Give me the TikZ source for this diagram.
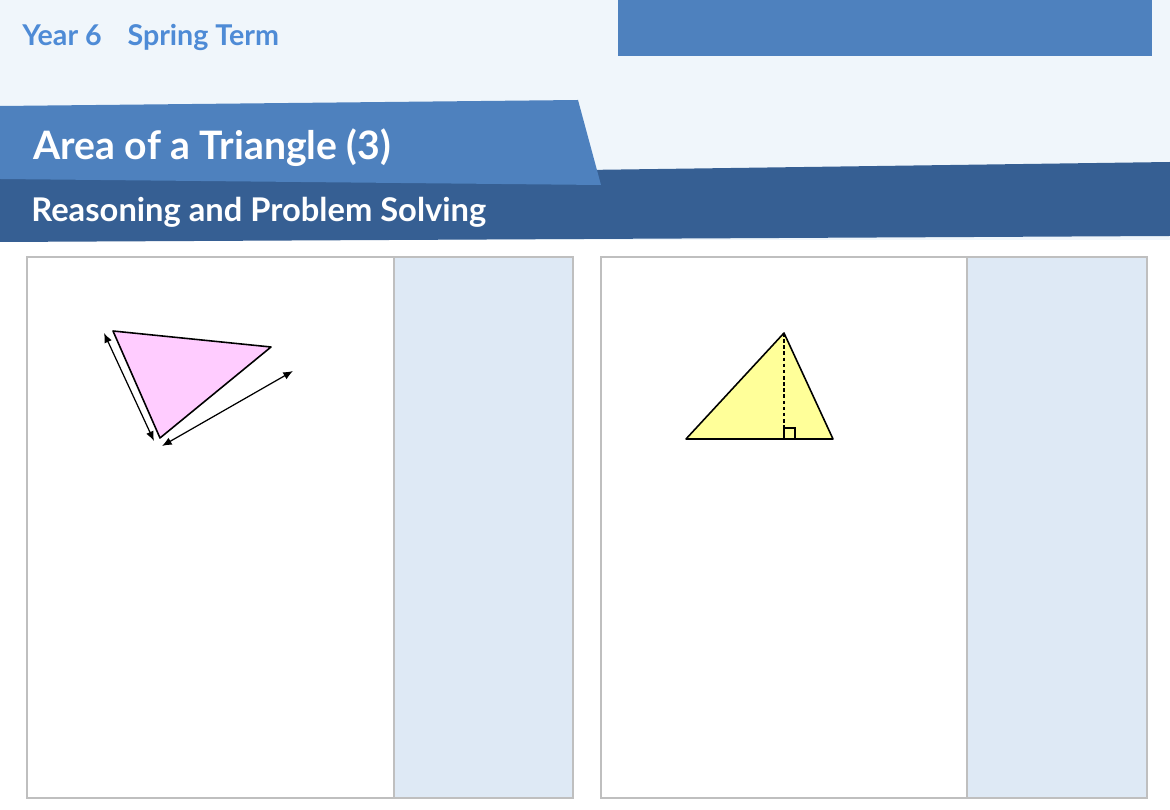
\documentclass[tikz,border=0pt]{standalone}
\usepackage{fontspec}
\setmainfont{Lato}
\usetikzlibrary{arrows.meta}
\definecolor{bgl}{HTML}{F0F6FB}
\definecolor{midblue}{HTML}{4E81BE}
\definecolor{darkblue}{HTML}{365F93}
\definecolor{yeartxt}{HTML}{4E8BD6}
\definecolor{panelgray}{HTML}{BFBFBF}
\definecolor{panelblue}{HTML}{DEE9F5}
\definecolor{pinkfill}{HTML}{FFCCFF}
\definecolor{yellowfill}{HTML}{FFFF99}
\begin{document}
\begin{tikzpicture}[x=0.02cm,y=-0.02cm,
  panel/.style={draw=panelgray,line width=0.6pt},
  side/.style={draw=panelgray,fill=panelblue,line width=0.6pt},
  tri/.style={draw=black,line width=0.9pt,line join=round},
  dim/.style={draw=black,line width=0.7pt,{Latex[length=5.5pt,width=4.5pt]}-{Latex[length=5.5pt,width=4.5pt]}},
  txt/.style={inner sep=0pt,anchor=base west}]
\useasboundingbox (0,0) rectangle (1170,810);
\fill[white] (0,0) rectangle (1170,810);
\fill[bgl] (0,0) rectangle (1170,240);
\fill[midblue] (618,0) rectangle (1152,56);
% dark band
\fill[darkblue] (0,178) -- (1170,162) -- (1170,236) -- (0,242) -- cycle;
% light title band
\fill[midblue] (0,106) -- (578,100) -- (601,185) -- (0,179) -- cycle;
\node[txt,text=yeartxt,font=\bfseries\fontsize{16.3}{18}\selectfont] (year) at (22,46) {Year 6\hspace{0.9em}Spring Term};
\node[txt,text=white,font=\bfseries\fontsize{22.3}{26}\selectfont] (title) at (33,160) {Area of a Triangle (3)};
\node[txt,text=white,font=\bfseries\fontsize{18.6}{22}\selectfont] (sub) at (31,222) {Reasoning and Problem Solving};
% panels
\draw[panel] (27,257) rectangle (394,798);
\draw[side] (394,257) rectangle (573,798);
\draw[panel] (601,257) rectangle (967,798);
\draw[side] (967,257) rectangle (1147,798);
% pink triangle
\coordinate (pa) at (113,331);
\coordinate (pb) at (271,347);
\coordinate (pc) at (160,438);
\fill[pinkfill] (pa) -- (pb) -- (pc) -- cycle;
\draw[tri] (pa) -- (pb) -- (pc) -- cycle;
\coordinate (d1s) at (104,333);
\coordinate (d1e) at (154,441);
\coordinate (d2s) at (162,446);
\coordinate (d2e) at (293,371);
\draw[dim] (d1s) -- (d1e);
\draw[dim] (d2s) -- (d2e);
% yellow triangle
\coordinate (ya) at (686,439);
\coordinate (yb) at (784,333);
\coordinate (yc) at (833,439);
\coordinate (yf) at (784,439);
\fill[yellowfill] (ya) -- (yb) -- (yc) -- cycle;
\draw[black,line width=0.6pt,dash pattern=on 2pt off 1.5pt] (yb) -- (yf);
\draw[black,line width=0.9pt] (784,428) rectangle (795,439);
\draw[tri] (ya) -- (yb) -- (yc) -- cycle;
\end{tikzpicture}
\end{document}
